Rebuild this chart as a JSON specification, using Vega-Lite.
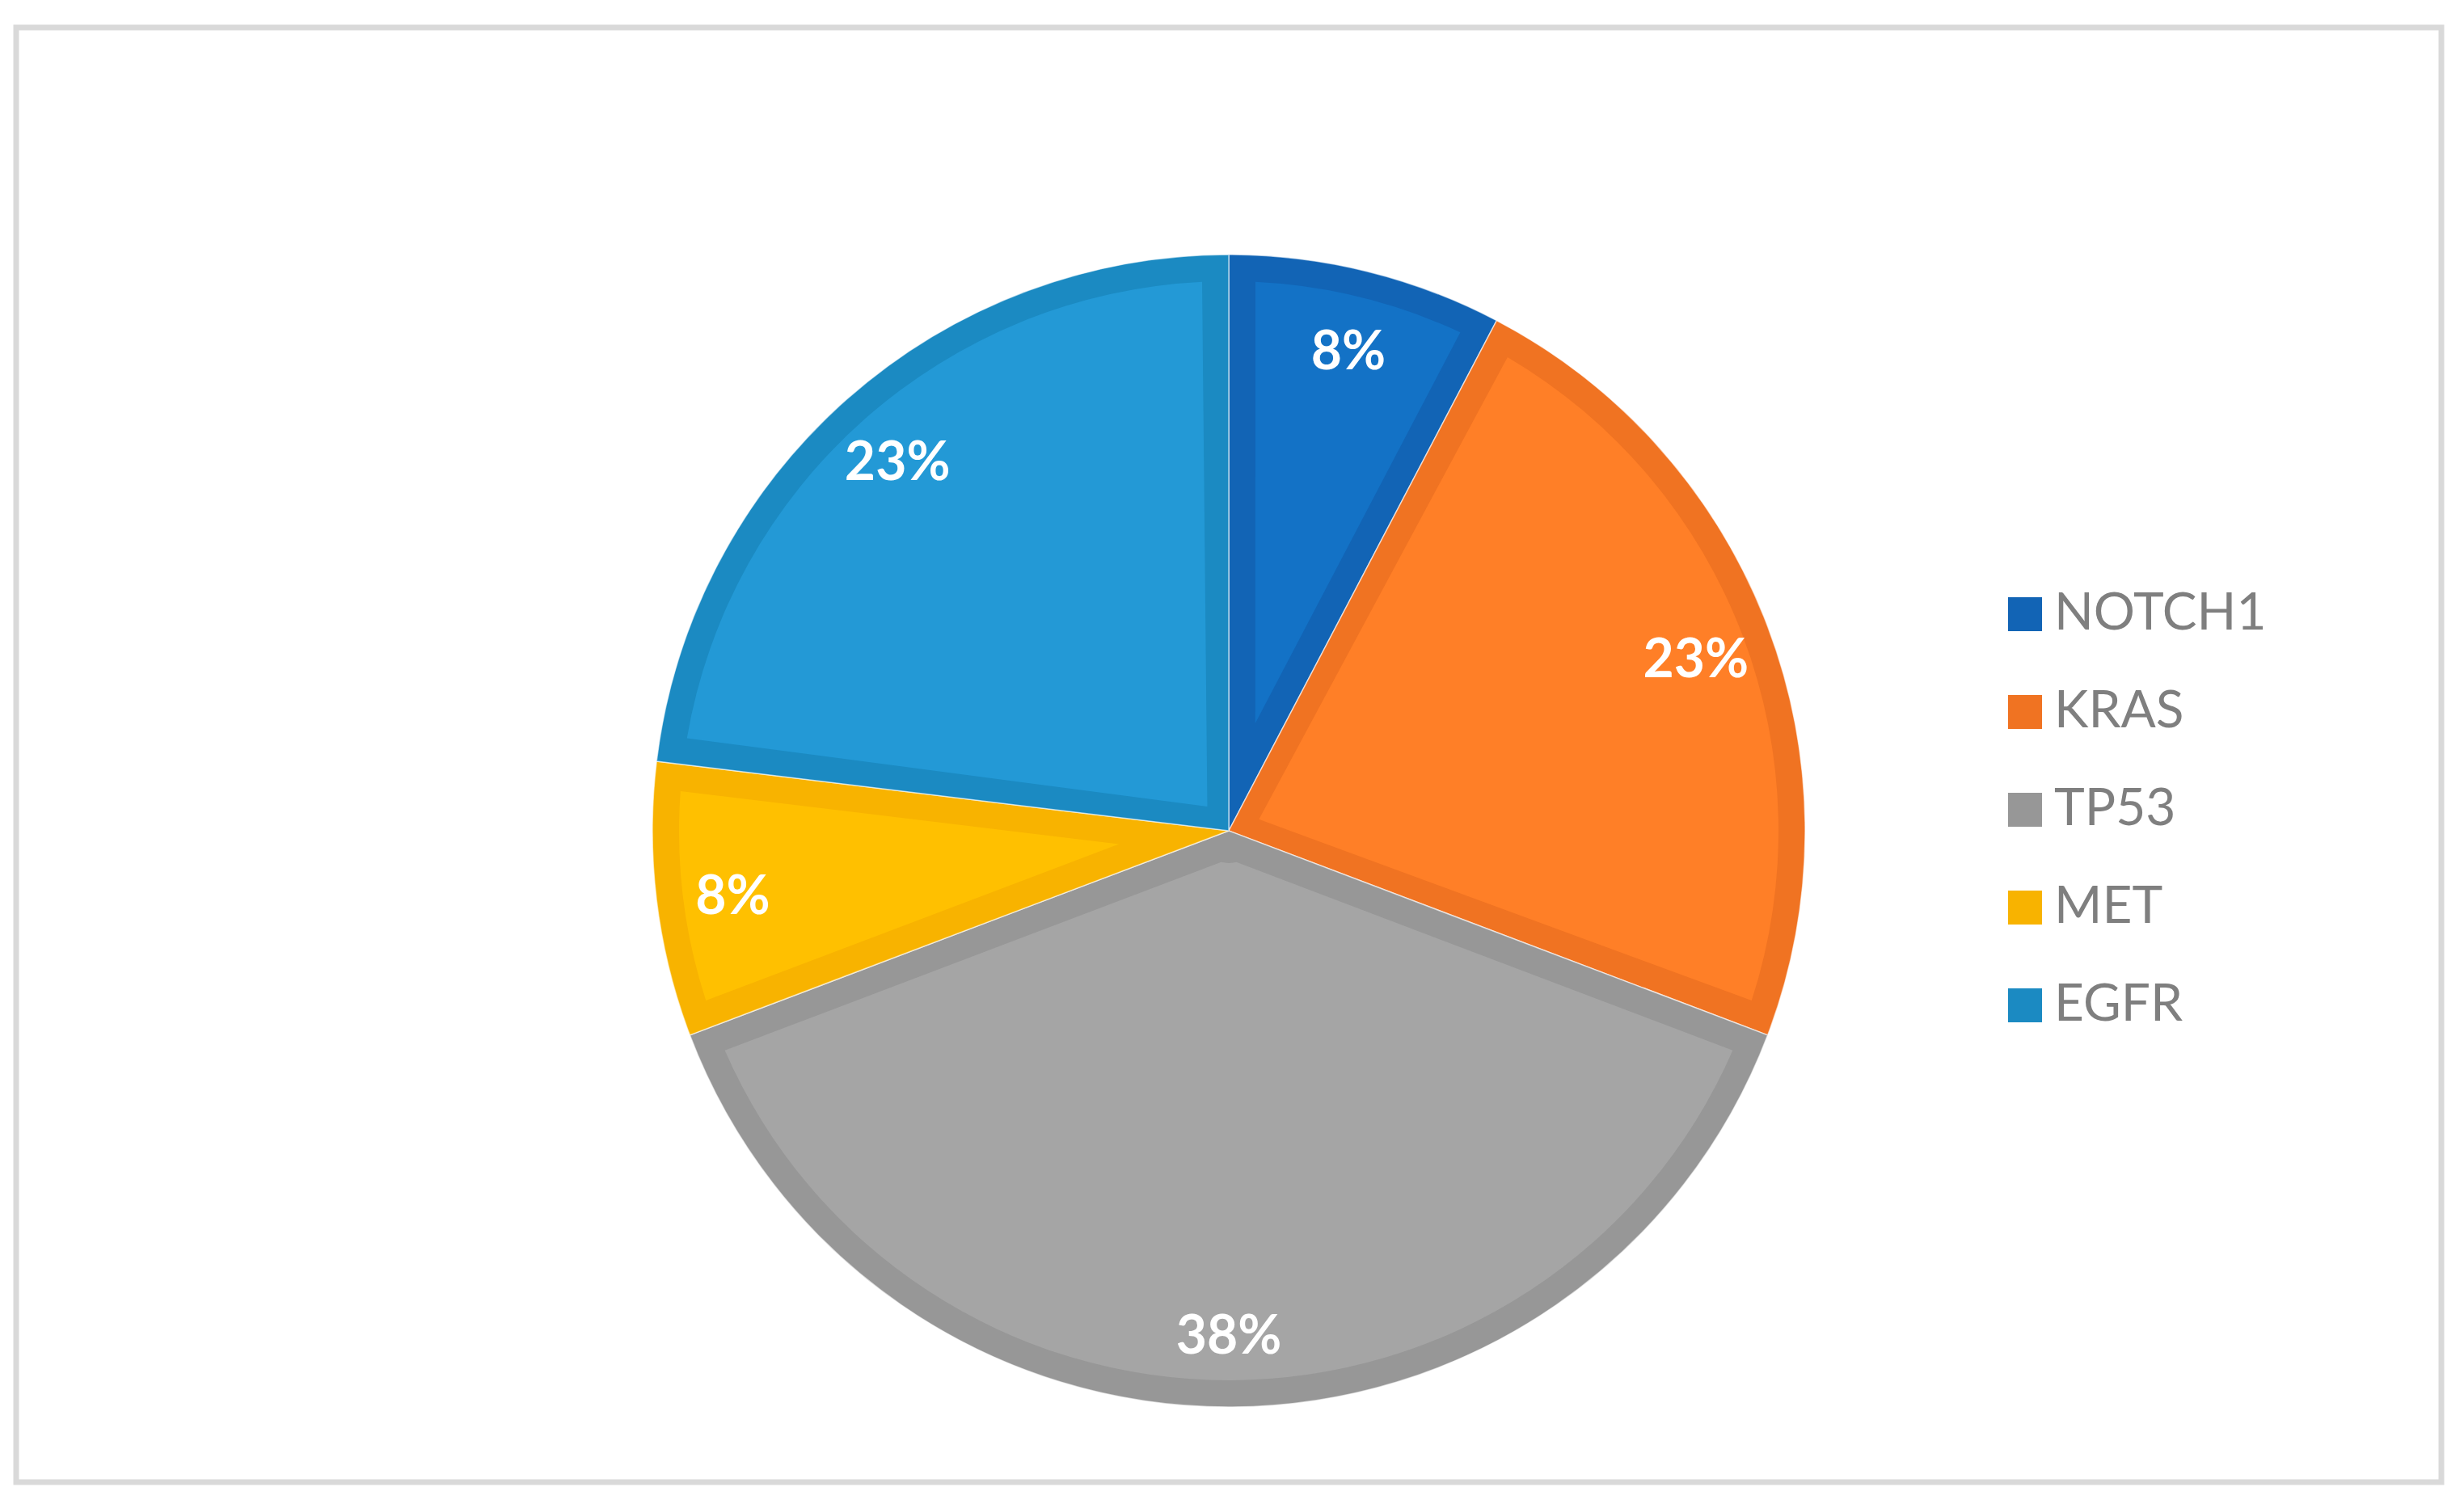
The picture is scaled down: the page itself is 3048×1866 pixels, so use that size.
{
  "$schema": "https://vega.github.io/schema/vega-lite/v6.json",
  "width": 3000,
  "height": 1800,
  "autosize": {"type": "none"},
  "padding": {"left": 20, "top": 34, "right": 28, "bottom": 32},
  "background": "white",
  "view": {"stroke": "#d9d9d9", "strokeWidth": 7, "fill": "white"},
  "config": {
    "view": {"stroke": "#d9d9d9", "strokeWidth": 7},
    "legend": {
      "orient": "none",
      "legendX": 2453,
      "legendY": 694,
      "padding": 0,
      "symbolType": "square",
      "symbolSize": 1764,
      "symbolStrokeWidth": 0,
      "symbolOpacity": 1,
      "labelFont": "Lato",
      "labelFontSize": 64,
      "labelColor": "#7f7f7f",
      "labelOffset": 4,
      "rowPadding": 57,
      "labelLimit": 0
    }
  },
  "data": {
    "values": [
      {"gene": "NOTCH1", "value": 1, "label": "8%"},
      {"gene": "KRAS", "value": 3, "label": "23%"},
      {"gene": "TP53", "value": 5, "label": "38%"},
      {"gene": "MET", "value": 1, "label": "8%"},
      {"gene": "EGFR", "value": 3, "label": "23%"}
    ]
  },
  "transform": [
    {"window": [{"op": "row_number", "as": "idx"}]},
    {"stack": "value", "groupby": [], "sort": [{"field": "idx", "order": "ascending"}], "as": ["v0", "v1"]}
  ],
  "layer": [
    {
      "mark": {"type": "arc", "outerRadius": 713, "innerRadius": 0, "yOffset": 94, "stroke": "#ffffff", "strokeWidth": 1.5, "strokeOpacity": 0.6},
      "encoding": {
        "theta": {"field": "v0", "type": "quantitative", "scale": {"zero": true, "nice": false}},
        "theta2": {"field": "v1"},
        "color": {
          "field": "gene",
          "type": "nominal",
          "sort": ["NOTCH1", "KRAS", "TP53", "MET", "EGFR"],
          "scale": {"domain": ["NOTCH1", "KRAS", "TP53", "MET", "EGFR"], "range": ["#1264b5", "#f07322", "#979797", "#f8b300", "#1b8ac2"]},
          "legend": {"title": null}
        }
      }
    },
    {
      "transform": [{"filter": "datum.v1 - datum.v0 < 2"}],
      "mark": {"type": "arc", "outerRadius": 680, "innerRadius": 137, "padAngle": 0.0952, "yOffset": 94},
      "encoding": {
        "theta": {"field": "v0", "type": "quantitative"},
        "theta2": {"field": "v1"},
        "color": {
          "field": "gene",
          "type": "nominal",
          "scale": {"domain": ["NOTCH1", "KRAS", "TP53", "MET", "EGFR"], "range": ["#1372c6", "#ff7f27", "#a5a5a5", "#ffc000", "#2399d6"]},
          "legend": null
        }
      }
    },
    {
      "transform": [{"filter": "datum.v1 - datum.v0 >= 2"}],
      "mark": {"type": "arc", "outerRadius": 680, "innerRadius": 40, "padAngle": 0.0969, "yOffset": 94},
      "encoding": {
        "theta": {"field": "v0", "type": "quantitative"},
        "theta2": {"field": "v1"},
        "color": {
          "field": "gene",
          "type": "nominal",
          "scale": {"domain": ["NOTCH1", "KRAS", "TP53", "MET", "EGFR"], "range": ["#1372c6", "#ff7f27", "#a5a5a5", "#ffc000", "#2399d6"]},
          "legend": null
        }
      }
    },
    {
      "mark": {"type": "text", "radius": 618, "yOffset": 94, "dy": 9, "font": "Lato", "fontSize": 66, "fontWeight": "bold", "fill": "#ffffff", "align": "center", "baseline": "middle"},
      "encoding": {
        "theta": {"field": "value", "type": "quantitative", "stack": true},
        "order": {"field": "idx", "type": "quantitative", "sort": "ascending"},
        "text": {"field": "label", "type": "nominal"}
      }
    }
  ],
  "resolve": {"scale": {"color": "independent"}}
}
